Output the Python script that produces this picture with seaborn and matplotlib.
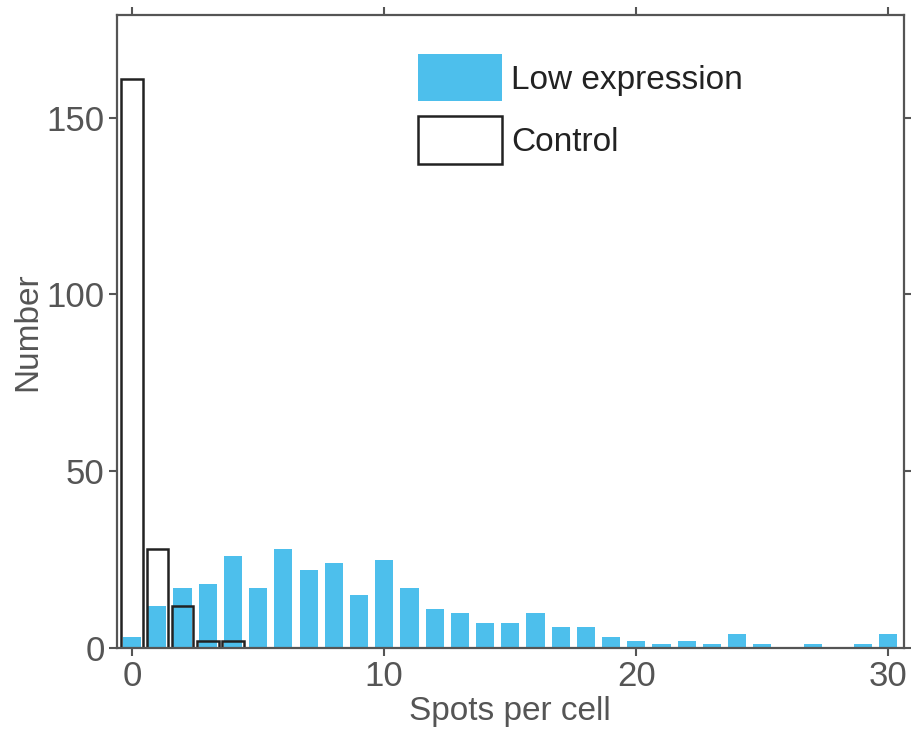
import numpy as np
import pandas as pd
import seaborn as sns
import matplotlib.pyplot as plt
from matplotlib.patches import Patch

# histogram counts per bin (spots per cell 0..30)
spots = list(range(31))
low_expression = [3, 12, 17, 18, 26, 17, 28, 22, 24, 15, 25, 17, 11, 10, 7, 7,
                  10, 6, 6, 3, 2, 1, 2, 1, 4, 1, 0, 1, 0, 1, 4]
control = [161, 28, 12, 2, 2] + [0] * 26

blue = '#4dbfec'
edge = '#222222'
grey = '#555555'

sns.set_style('white')
plt.rcParams['font.family'] = ['Liberation Sans', 'DejaVu Sans']

df = pd.DataFrame({'spots': spots, 'low': low_expression, 'control': control})

fig = plt.figure(figsize=(9.12, 7.38), dpi=100)
ax = fig.add_axes([0.1283, 0.122, 0.8624, 0.8577])

sns.barplot(data=df, x='spots', y='low', native_scale=True, width=0.72,
            color=blue, saturation=1, linewidth=0, errorbar=None, ax=ax)
sns.barplot(data=df, x='spots', y='control', native_scale=True, width=0.86,
            fill=False, color=edge, linewidth=1.8, errorbar=None, ax=ax)

ax.set_xlim(-0.6, 30.6)
ax.set_ylim(0, 179)
ax.set_xticks([0, 10, 20, 30])
ax.set_yticks([0, 50, 100, 150])
ax.set_xlabel('Spots per cell', fontsize=24, color=grey, labelpad=2)
ax.set_ylabel('Number', fontsize=24, color=grey, labelpad=2)

ax.tick_params(axis='both', which='both', direction='out', length=6, width=1.5,
               color=grey, labelcolor=grey, labelsize=25,
               bottom=True, top=True, left=True, right=True, pad=3)
for s in ax.spines.values():
    s.set_color(grey)
    s.set_linewidth(1.6)
    s.set_visible(True)

handles = [Patch(facecolor=blue, edgecolor='none', label='Low expression'),
           Patch(facecolor='none', edgecolor=edge, linewidth=1.8, label='Control')]
ax.legend(handles=handles, loc='upper left', bbox_to_anchor=(0.383, 0.938),
          frameon=False, fontsize=24, handlelength=2.5, handleheight=1.8,
          handletextpad=0.28, labelspacing=0.45, borderpad=0, borderaxespad=0,
          labelcolor='#222222')

plt.savefig('out.png', dpi=100)
